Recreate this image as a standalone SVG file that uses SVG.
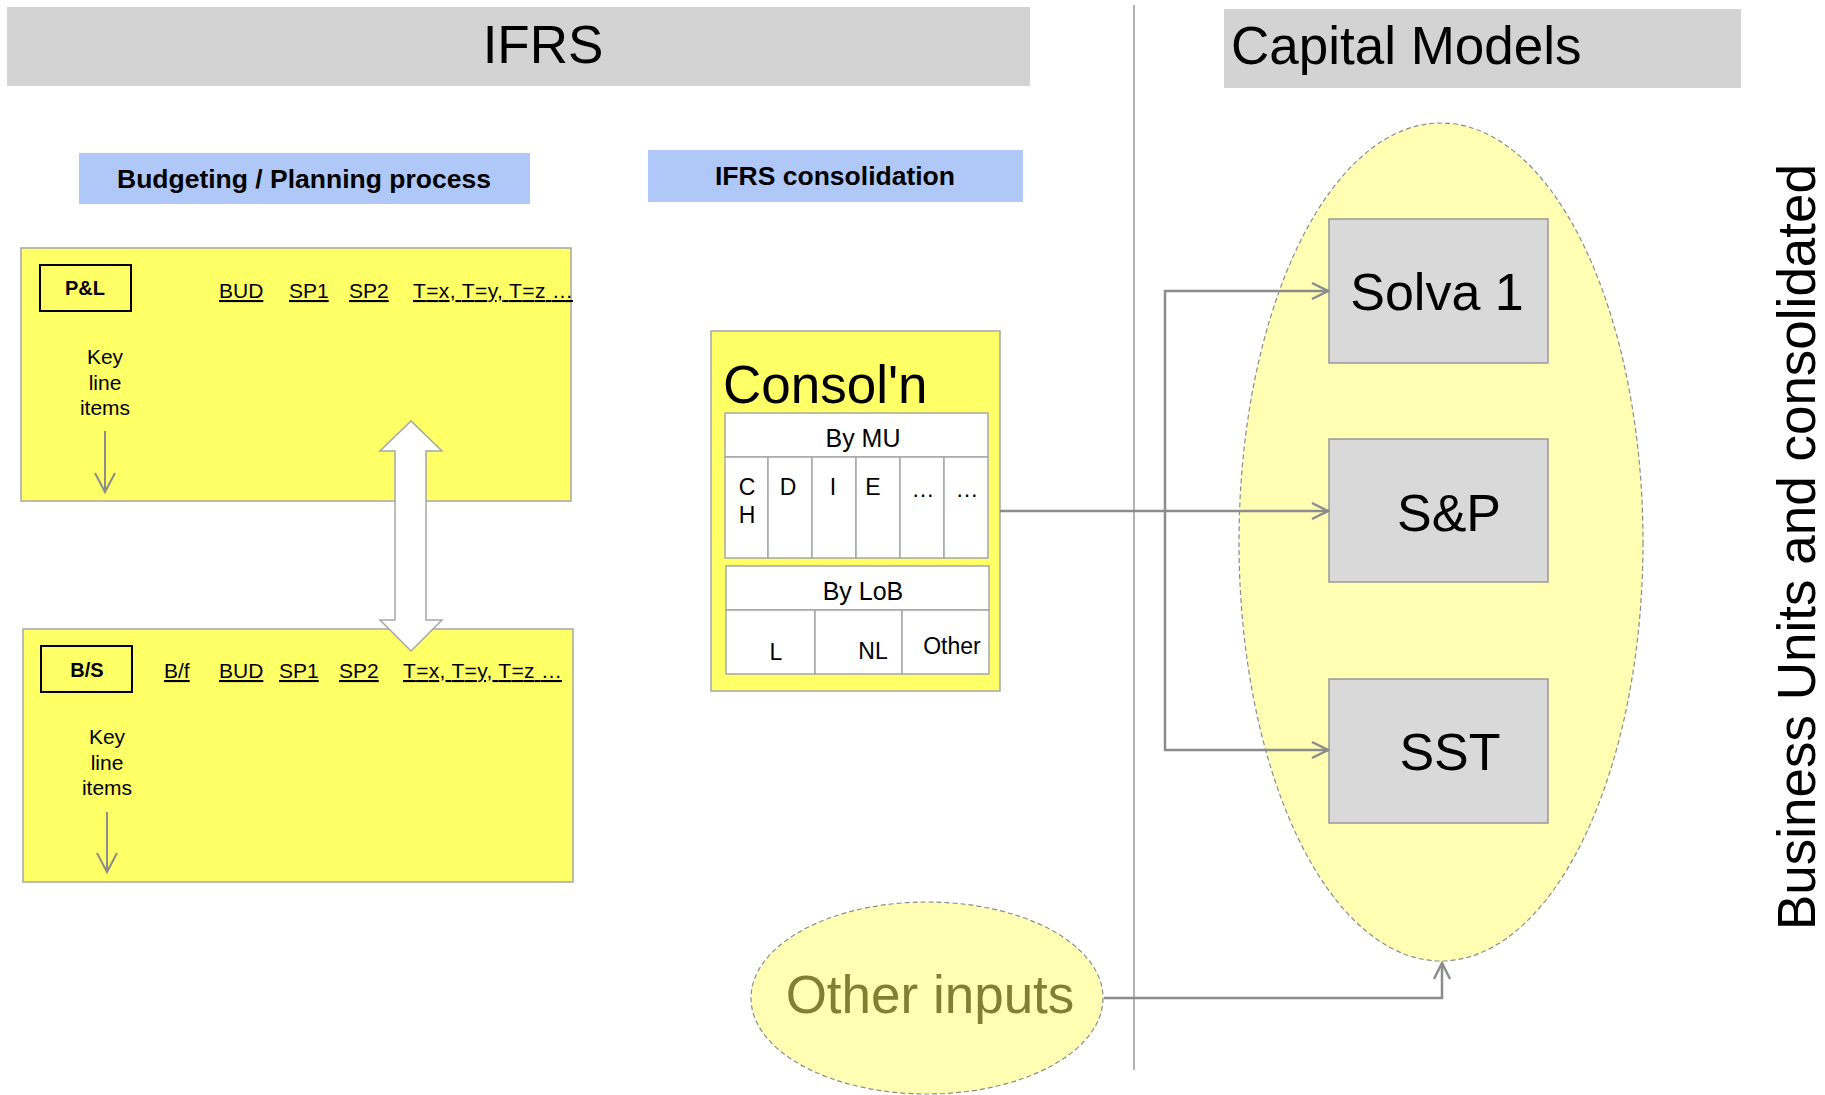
<svg xmlns="http://www.w3.org/2000/svg" width="1825" height="1095" viewBox="0 0 1825 1095">
<defs>
<style>
text{font-family:"Liberation Sans",Arial,sans-serif;fill:#000}
.hdr{fill:#d3d3d3;stroke:none}
.blue{fill:#b0c8f8;stroke:none}
.yel{fill:#ffff66;stroke:#a6a6a6;stroke-width:1.5}
.cell{fill:#fff;stroke:#a6a6a6;stroke-width:1.5}
.gbox{fill:#d9d9d9;stroke:#999;stroke-width:1.5}
.ell{fill:#ffffb3;stroke:#8c8c8c;stroke-width:1.2;stroke-dasharray:5,3}
.conn{fill:none;stroke:#8c8c8c;stroke-width:2.5}
.small{font-size:21px}
.u{text-decoration:underline}
.b{font-weight:bold}
</style>
<marker id="open" viewBox="0 0 20 20" refX="18" refY="10" markerWidth="20" markerHeight="20" markerUnits="userSpaceOnUse" orient="auto">
<path d="M2,2 L18,10 L2,18" fill="none" stroke="#8c8c8c" stroke-width="2.5"/>
</marker>
</defs>

<g id="ifrs-header">
<rect class="hdr" x="7" y="7" width="1023" height="79"/>
<text x="543" y="63" font-size="53" text-anchor="middle">IFRS</text>
</g>
<g id="capital-header">
<rect class="hdr" x="1224" y="9" width="517" height="79"/>
<text x="1231" y="64" font-size="53">Capital Models</text>
</g>
<line x1="1134" y1="5" x2="1134" y2="1070" stroke="#999" stroke-width="1.5"/>

<g id="budgeting-label">
<rect class="blue" x="79" y="153" width="451" height="51"/>
<text x="304" y="188" font-size="26.5" class="b" text-anchor="middle">Budgeting / Planning process</text>
</g>
<g id="ifrs-consolidation-label">
<rect class="blue" x="648" y="150" width="375" height="52"/>
<text x="835" y="185" font-size="26.5" class="b" text-anchor="middle">IFRS consolidation</text>
</g>

<g id="pl-box">
<rect class="yel" x="21" y="248" width="550" height="253"/>
<rect x="40" y="265" width="91" height="46" fill="none" stroke="#000" stroke-width="2"/>
<text x="85" y="295" font-size="20" class="b" text-anchor="middle">P&amp;L</text>
<text x="219" y="298" class="small u">BUD</text>
<text x="289" y="298" class="small u">SP1</text>
<text x="349" y="298" class="small u">SP2</text>
<text x="413" y="298" class="small u" textLength="160" lengthAdjust="spacing">T=x, T=y, T=z …</text>
<text x="105" y="364" class="small" text-anchor="middle">Key</text>
<text x="105" y="390" class="small" text-anchor="middle">line</text>
<text x="105" y="415" class="small" text-anchor="middle">items</text>
<line x1="105" y1="431" x2="105" y2="491" stroke="#8c8c8c" stroke-width="2"/>
<path d="M95,473 L105,492 L115,473" fill="none" stroke="#8c8c8c" stroke-width="2"/>
</g>

<g id="bs-box">
<rect class="yel" x="23" y="629" width="550" height="253"/>
<rect x="41" y="646" width="91" height="46" fill="none" stroke="#000" stroke-width="2"/>
<text x="87" y="677" font-size="20" class="b" text-anchor="middle">B/S</text>
<text x="164" y="678" class="small u">B/f</text>
<text x="219" y="678" class="small u">BUD</text>
<text x="279" y="678" class="small u">SP1</text>
<text x="339" y="678" class="small u">SP2</text>
<text x="403" y="678" class="small u" textLength="159" lengthAdjust="spacing">T=x, T=y, T=z …</text>
<text x="107" y="744" class="small" text-anchor="middle">Key</text>
<text x="107" y="770" class="small" text-anchor="middle">line</text>
<text x="107" y="795" class="small" text-anchor="middle">items</text>
<line x1="107" y1="812" x2="107" y2="871" stroke="#8c8c8c" stroke-width="2"/>
<path d="M97,853 L107,872 L117,853" fill="none" stroke="#8c8c8c" stroke-width="2"/>
</g>

<g id="double-arrow">
<polygon points="411,421 442,451 426,451 426,620 442,620 411,651 380,620 395,620 395,451 380,451" fill="#fff" stroke="#a6a6a6" stroke-width="1.5"/>
</g>

<g id="consoln-box">
<rect class="yel" x="711" y="331" width="289" height="360"/>
<text x="723" y="403" font-size="53">Consol'n</text>
<rect class="cell" x="725" y="413" width="263" height="44"/>
<text x="863" y="447" font-size="25" text-anchor="middle">By MU</text>
<rect class="cell" x="725" y="457" width="43" height="101"/>
<rect class="cell" x="768" y="457" width="44" height="101"/>
<rect class="cell" x="812" y="457" width="44" height="101"/>
<rect class="cell" x="856" y="457" width="44" height="101"/>
<rect class="cell" x="900" y="457" width="44" height="101"/>
<rect class="cell" x="944" y="457" width="44" height="101"/>
<text x="747" y="495" font-size="23" text-anchor="middle">C</text>
<text x="747" y="523" font-size="23" text-anchor="middle">H</text>
<text x="788" y="495" font-size="23" text-anchor="middle">D</text>
<text x="833" y="495" font-size="23" text-anchor="middle">I</text>
<text x="873" y="495" font-size="23" text-anchor="middle">E</text>
<text x="923" y="497" font-size="23" text-anchor="middle">…</text>
<text x="967" y="497" font-size="23" text-anchor="middle">…</text>
<rect class="cell" x="726" y="566" width="263" height="44"/>
<text x="863" y="600" font-size="25" text-anchor="middle">By LoB</text>
<rect class="cell" x="726" y="610" width="89" height="64"/>
<rect class="cell" x="815" y="610" width="87" height="64"/>
<rect class="cell" x="902" y="610" width="87" height="64"/>
<text x="776" y="660" font-size="23" text-anchor="middle">L</text>
<text x="873" y="659" font-size="23" text-anchor="middle">NL</text>
<text x="952" y="654" font-size="23" text-anchor="middle">Other</text>
</g>

<g id="capital-ellipse">
<ellipse class="ell" cx="1441" cy="542" rx="202" ry="419"/>
</g>

<g id="solva1">
<rect class="gbox" x="1329" y="219" width="219" height="144"/>
<text x="1437" y="310" font-size="52" text-anchor="middle">Solva 1</text>
</g>
<g id="sp">
<rect class="gbox" x="1329" y="439" width="219" height="143"/>
<text x="1449" y="531" font-size="52" text-anchor="middle">S&amp;P</text>
</g>
<g id="sst">
<rect class="gbox" x="1329" y="679" width="219" height="144"/>
<text x="1450" y="770" font-size="52" text-anchor="middle">SST</text>
</g>

<g id="other-inputs">
<ellipse class="ell" cx="927" cy="998" rx="176" ry="96"/>
<text x="930" y="1013" font-size="53" style="fill:#808033" text-anchor="middle">Other inputs</text>
</g>

<g id="business-units-label">
<text transform="translate(1815,547) rotate(-90)" font-size="53" text-anchor="middle">Business Units and consolidated</text>
</g>

<g id="connectors">
<path class="conn" d="M1000,511 L1328,511" marker-end="url(#open)"/>
<path class="conn" d="M1165,511 L1165,291 L1328,291" marker-end="url(#open)"/>
<path class="conn" d="M1165,511 L1165,750 L1328,750" marker-end="url(#open)"/>
<path class="conn" d="M1104,998 L1442,998 L1442,963" marker-end="url(#open)"/>
</g>
</svg>
